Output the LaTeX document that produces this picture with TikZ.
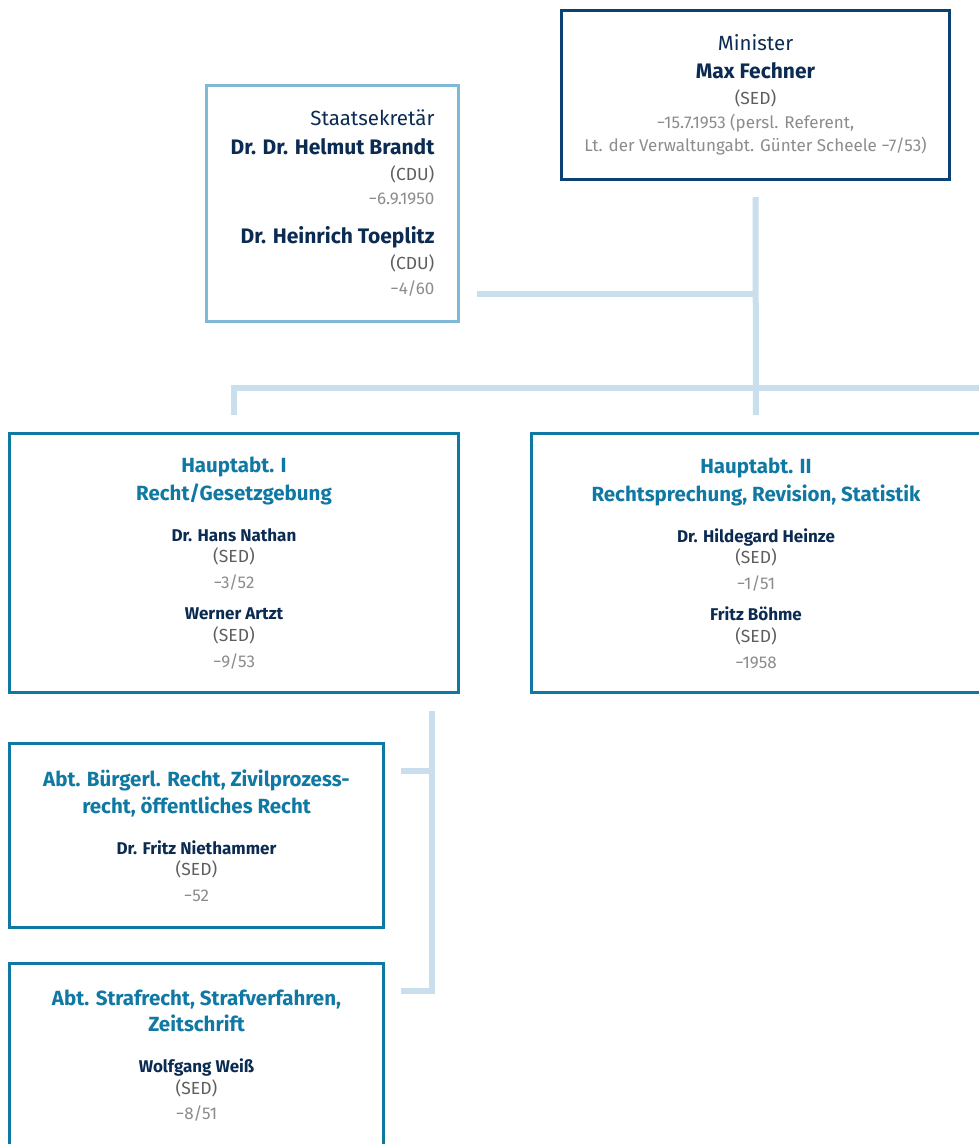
\documentclass[tikz,border=0pt]{standalone}
\usepackage{fontspec}
\setmainfont{Fira Sans}
\usetikzlibrary{positioning,calc}

\definecolor{navytext}{HTML}{0B2B52}
\definecolor{ministerblue}{HTML}{0B4274}
\definecolor{deptteal}{HTML}{0F78A3}
\definecolor{staatsblue}{HTML}{80B9D8}
\definecolor{linkblue}{HTML}{C9DFEE}
\definecolor{partygrey}{HTML}{5E5E5E}
\definecolor{dategrey}{HTML}{8C8C8C}

\newcommand{\orgbase}{\fontsize{14.5}{23}\selectfont\lineskiplimit=-50pt\relax}
\newcommand{\orgrank}{\fontsize{20.5}{23}\selectfont\color{navytext}}
\newcommand{\orgname}{\fontsize{21}{23}\selectfont\bfseries\color{navytext}}
\newcommand{\orgsmall}{\fontsize{17}{23}\selectfont\bfseries\color{navytext}}
\newcommand{\orghead}{\fontsize{20.5}{23}\selectfont\bfseries\color{deptteal}}
\newcommand{\orgparty}{\fontsize{17.5}{23}\selectfont\color{partygrey}}
\newcommand{\orgdate}{\fontsize{17}{23}\selectfont\color{dategrey}}

\begin{document}
\begin{tikzpicture}[x=1pt,y=1pt]
    \tikzstyle{every node}=[inner sep=0,align=center]
    \tikzstyle{box}=[draw,line width=3,fill=white,font=\orgbase]
    \tikzstyle{dept}=[box,draw=deptteal]
    \tikzstyle{link}=[draw=linkblue,line width=6]

    \useasboundingbox (0,0) rectangle (979,-1144);
    \clip (0,0) rectangle (979,-1144);

    % leadership
    \node[box,draw=ministerblue,minimum width=388,minimum height=169] (minister) at (755.5,-95) {
        {\orgrank Minister}\\[5]
        {\orgname Max Fechner}\\[3]
        {\orgparty (SED)}\\[1]
        {\orgdate −15.7.1953 (persl. Referent,}\\
        {\orgdate Lt. der Verwaltungabt. Günter Scheele −7/53)}};
    \node[box,draw=staatsblue,align=right,minimum width=252,minimum height=236] (staats) at (332.5,-203.5) {
        {\orgrank Staatsekretär}\\[6]
        {\orgname Dr. Dr. Helmut Brandt}\\[3]
        {\orgparty (CDU)}\\[1]
        {\orgdate −6.9.1950}\\[16]
        {\orgname Dr. Heinrich Toeplitz}\\[3]
        {\orgparty (CDU)}\\[2]
        {\orgdate −4/60}};

    % main departments
    \node[dept,minimum width=449,minimum height=259] (haupt1) at (234,-563) {
        {\orghead Hauptabt. I}\\[5]
        {\orghead Recht/Gesetzgebung}\\[18]
        {\orgsmall Dr. Hans Nathan}\\[-2]
        {\orgparty (SED)}\\[3]
        {\orgdate −3/52}\\[8]
        {\orgsmall Werner Artzt}\\[-1]
        {\orgparty (SED)}\\[3]
        {\orgdate −9/53}};
    \node[dept,minimum width=449,minimum height=259] (haupt2) at (756,-563) {
        {\orghead Hauptabt. II}\\[5]
        {\orghead Rechtsprechung, Revision, Statistik}\\[18]
        {\orgsmall Dr. Hildegard Heinze}\\[-2]
        {\orgparty (SED)}\\[3]
        {\orgdate −1/51}\\[8]
        {\orgsmall Fritz Böhme}\\[-1]
        {\orgparty (SED)}\\[3]
        {\orgdate −1958}};

    % sub departments
    \node[dept,minimum width=374,minimum height=184] (buerg) at (196.5,-835.5) {
        {\orghead Abt. Bürgerl. Recht, Zivilprozess-}\\[4]
        {\orghead recht, öffentliches Recht}\\[18]
        {\orgsmall Dr. Fritz Niethammer}\\[-2]
        {\orgparty (SED)}\\[3]
        {\orgdate −52}};
    \node[dept,minimum width=374,minimum height=184] (straf) at (196.5,-1055.5) {
        {\orghead Abt. Strafrecht, Strafverfahren,}\\[3]
        {\orghead Zeitschrift}\\[18]
        {\orgsmall Wolfgang Weiß}\\[-1]
        {\orgparty (SED)}\\[2]
        {\orgdate −8/51}};

    % connectors
    \coordinate (stjoin) at (755.5,-294);
    \coordinate (bus) at (755.5,-388);
    \coordinate (busend) at (1000,-388);
    \coordinate (subtop) at (432,-711);
    \coordinate (subbot) at (432,-991);
    \coordinate (buergjoin) at (432,-771);

    \draw[link,shorten <=16,shorten >=17] (minister.south) -- (haupt2.north);
    \draw[link,shorten <=17] (staats.east |- stjoin) -- (stjoin);
    \draw[link,shorten >=17] (busend) -- (bus -| haupt1.north) -- (haupt1.north);
    \draw[link] (subtop) -- (subbot) -- ([xshift=16]straf.east |- subbot);
    \draw[link] ([xshift=16]buerg.east |- buergjoin) -- (buergjoin);
\end{tikzpicture}
\end{document}
